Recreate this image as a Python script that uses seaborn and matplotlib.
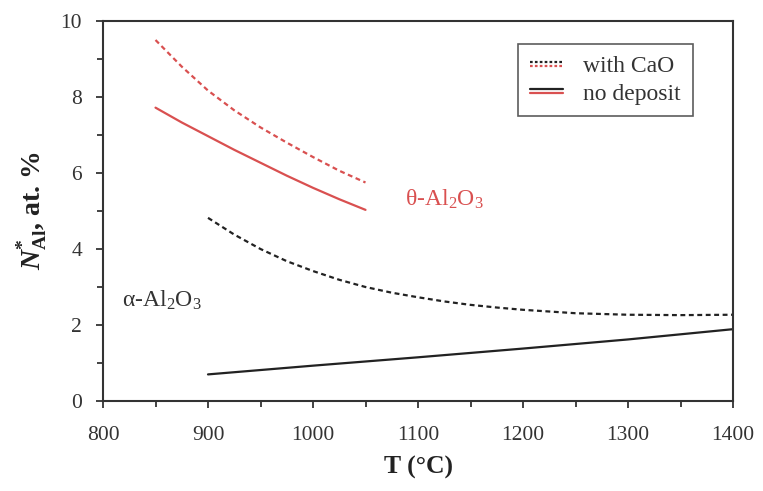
import numpy as np
import pandas as pd
import matplotlib
matplotlib.use("Agg")
import matplotlib.pyplot as plt
import seaborn as sns
from matplotlib.lines import Line2D
from matplotlib.legend_handler import HandlerBase
from matplotlib.ticker import MultipleLocator

# ---- data ----
T_theta_cao = [850, 875, 900, 925, 950, 975, 1000, 1025, 1050]
N_theta_cao = [9.5, 8.8, 8.17, 7.65, 7.2, 6.8, 6.42, 6.06, 5.75]

T_theta_nodep = [850, 875, 900, 925, 950, 975, 1000, 1025, 1050]
N_theta_nodep = [7.72, 7.33, 6.97, 6.61, 6.27, 5.93, 5.61, 5.31, 5.03]

T_alpha_cao = [900, 925, 950, 975, 1000, 1025, 1050, 1075, 1100, 1125, 1150,
               1175, 1200, 1250, 1300, 1350, 1400]
N_alpha_cao = [4.82, 4.38, 4.0, 3.68, 3.42, 3.19, 3.0, 2.85, 2.73, 2.62, 2.53,
               2.46, 2.4, 2.31, 2.27, 2.26, 2.27]

T_alpha_nodep = [900, 1000, 1100, 1200, 1300, 1400]
N_alpha_nodep = [0.70, 0.93, 1.15, 1.38, 1.62, 1.89]

x_ticks = [800, 900, 1000, 1100, 1200, 1300, 1400]
y_ticks = [0, 2, 4, 6, 8, 10]

RED = "#d95050"
BLACK = "#222222"

sns.set_style("ticks")
plt.rcParams["font.family"] = ["Liberation Serif", "DejaVu Serif"]
plt.rcParams["mathtext.fontset"] = "custom"
plt.rcParams["mathtext.rm"] = "Liberation Serif"
plt.rcParams["mathtext.it"] = "Liberation Serif:italic"
plt.rcParams["mathtext.bf"] = "Liberation Serif:bold"
plt.rcParams["mathtext.bfit"] = "Liberation Serif:bold:italic"

frames = []
for name, T, N in [("theta_cao", T_theta_cao, N_theta_cao),
                   ("theta_nodep", T_theta_nodep, N_theta_nodep),
                   ("alpha_cao", T_alpha_cao, N_alpha_cao),
                   ("alpha_nodep", T_alpha_nodep, N_alpha_nodep)]:
    frames.append(pd.DataFrame({"T": T, "N": N, "curve": name}))
df = pd.concat(frames, ignore_index=True)

fig = plt.figure(figsize=(7.63, 4.91), dpi=100)
ax = fig.add_axes([0.135, 0.1833, 0.8257, 0.7739])

dash = (0, (2.2, 1.6))
styles = {
    "theta_cao": dict(color=RED, linestyle=dash),
    "theta_nodep": dict(color=RED, linestyle="-"),
    "alpha_cao": dict(color=BLACK, linestyle=dash),
    "alpha_nodep": dict(color=BLACK, linestyle="-"),
}
for name, st in styles.items():
    sub = df[df["curve"] == name]
    sns.lineplot(data=sub, x="T", y="N", ax=ax, lw=1.6, legend=False,
                 estimator=None, sort=True, **st)

ax.set_xlim(800, 1400)
ax.set_ylim(0, 10)
ax.set_xticks(x_ticks)
ax.set_yticks(y_ticks)
ax.xaxis.set_minor_locator(MultipleLocator(50))
ax.yaxis.set_minor_locator(MultipleLocator(1))
ax.tick_params(axis="both", which="major", direction="out", length=5,
               width=1.2, labelsize=15.5, colors=BLACK, labelcolor="#333333")
ax.tick_params(axis="x", which="major", pad=13)
ax.tick_params(axis="y", which="major", pad=10)
ax.tick_params(axis="both", which="minor", direction="out", length=4,
               width=1.2, colors=BLACK)
for s in ax.spines.values():
    s.set_visible(True)
    s.set_linewidth(1.5)
    s.set_color("#333333")

ax.set_xlabel("T (°C)", fontsize=18.5, fontweight="bold", color="#222222", labelpad=8)
ax.set_ylabel(r"$\mathbfit{N}^{\mathbf{*}}_{\mathbf{Al}}$, at. %", fontsize=20,
              fontweight="bold", color="#222222", labelpad=8)

ax.text(818, 2.65, r"α-Al$_2$O$_3$", fontsize=17, color="#333333", va="center")
ax.text(1088, 5.3, r"θ-Al$_2$O$_3$", fontsize=17, color=RED, va="center")


class TwoLineHandler(HandlerBase):
    def __init__(self, ls):
        super().__init__()
        self.ls = ls

    def create_artists(self, legend, orig_handle, xdescent, ydescent, width,
                       height, fontsize, trans):
        y0 = height / 2.0 - ydescent
        off = height * 0.13
        l1 = Line2D([0, width], [y0 + off, y0 + off], color=BLACK, lw=1.6,
                    linestyle=self.ls, transform=trans)
        l2 = Line2D([0, width], [y0 - off, y0 - off], color=RED, lw=1.6,
                    linestyle=self.ls, transform=trans)
        return [l1, l2]


h1 = Line2D([], [], color=BLACK, linestyle=dash)
h2 = Line2D([], [], color=BLACK)
leg = ax.legend([h1, h2], ["with CaO", "no deposit"],
                handler_map={h1: TwoLineHandler((0, (1.2, 1.0))),
                             h2: TwoLineHandler("-")},
                loc="upper right", bbox_to_anchor=(0.936, 0.94),
                fontsize=17, frameon=True, fancybox=False, edgecolor="#333333",
                handlelength=1.4, handletextpad=0.85, borderpad=0.5,
                borderaxespad=0.0, labelspacing=0.25)
leg.get_frame().set_linewidth(1.2)
for t in leg.get_texts():
    t.set_color("#333333")

fig.savefig("out.png", dpi=100)
